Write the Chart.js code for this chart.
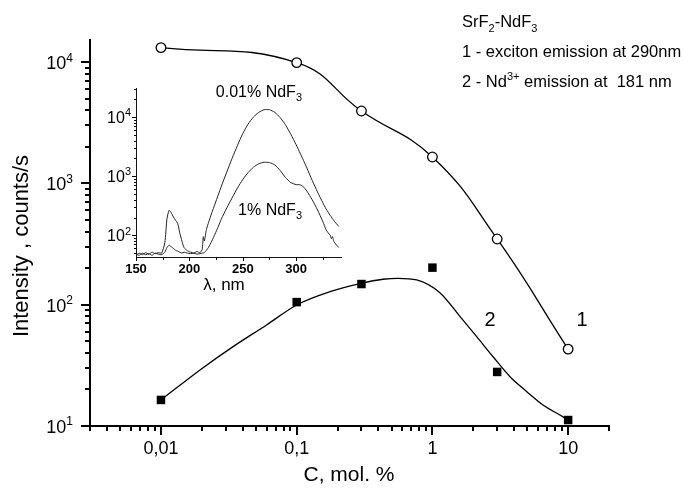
<!DOCTYPE html>
<html>
<head>
<meta charset="utf-8">
<script src="https://cdn.jsdelivr.net/npm/chart.js@4.4.1/dist/chart.umd.min.js"></script>
<style>
  html, body { margin: 0; padding: 0; background: #fff; }
  #wrap { position: relative; width: 685px; height: 489px; }
  #wrap canvas { position: absolute; left: 0; top: 0; }
</style>
</head>
<body>
<div id="wrap">
  <canvas id="mainChart" width="685" height="489"></canvas>
  <canvas id="insetChart" width="685" height="489"></canvas>
</div>
<script>
// Main plot: intensity vs NdF3 concentration
const conc = [0.01, 0.1, 0.3, 1, 3, 10];
const excitonCounts = [13150, 9900, 3950, 1650, 348, 43];   // 1 - exciton at 290 nm
const ndCounts = [16.4, 105, 148, 202, 27.9, 11.2];          // 2 - Nd3+ at 181 nm

// drawn fit line through the Nd3+ points
const ndFitConc = [0.01, 0.0194, 0.034, 0.06, 0.1, 0.176, 0.298, 0.433, 0.558, 0.766, 1.14, 1.6, 2.12, 2.8, 3.73, 4.96, 6.53, 9.17, 10];
const ndFitCounts = [16.4, 29, 45.1, 68.1, 99.5, 128, 150, 162, 165, 160, 125, 79.6, 54.5, 37.2, 25.5, 19.2, 14.9, 11.9, 11.2];

const concTicks = [0.01, 0.1, 1, 10];
const concTickLabels = ['0,01', '0,1', '1', '10'];
const countTicks = [10, 100, 1000, 10000];
const countTickExp = ['1', '2', '3', '4'];

// Inset: emission spectra
const wavelength = [150, 153, 156, 159, 162, 165, 168, 171, 174, 177, 179, 181, 183, 185, 187, 189, 191, 193, 195, 198,
  201, 204, 207, 210, 212, 213, 214, 216, 218, 221, 224, 227, 230, 235, 240, 245, 250, 255, 260, 265, 270, 275, 280, 285,
  290, 295, 300, 303, 306, 310, 315, 320, 325, 328, 330, 332, 333, 334, 335, 336, 338, 340];
const spec001 = [46, 50, 47, 51, 48, 52, 49, 51, 50, 75, 190, 265, 240, 205, 180, 160, 110, 80, 62, 55,
  52, 50, 53, 51, 58, 95, 80, 126, 166, 240, 340, 480, 680, 1175, 2000, 3300, 5250, 7600, 10000, 12000, 13300, 13300, 12000, 9800,
  7400, 5100, 3400, 2600, 2000, 1380, 850, 540, 355, 280, 245, 215, 205, 190, 182, 170, 155, 141];
const spec1 = [48, 46, 50, 47, 49, 46, 50, 48, 47, 52, 62, 68, 64, 60, 56, 54, 52, 50, 52, 50,
  49, 50, 48, 49, 50, 50, 51, 56, 63, 80, 105, 140, 190, 290, 430, 630, 880, 1150, 1420, 1620, 1720, 1700, 1550, 1250,
  950, 780, 720, 720, 680, 560, 400, 270, 170, 125, 110, 100, 88, 95, 82, 75, 68, 62];
const waveTicks = [150, 200, 250, 300];
const insetCountTicks = [100, 1000, 10000];
const insetCountExp = ['2', '3', '4'];

const ink = '#000';
const FONT = '"Liberation Sans", Arial, sans-serif';

function minorLogTicks(fromExp, toExp, min, max) {
  const out = [];
  for (let e = fromExp; e <= toExp; e++) {
    for (let m = 2; m <= 9; m++) {
      const v = m * Math.pow(10, e);
      if (v >= min * 0.999 && v <= max * 1.001) out.push(v);
    }
  }
  return out;
}

// text with sub/superscripts: parts = [[text, kind]] kind 0 normal, 1 sup, -1 sub
function drawRich(ctx, x, y, parts, size, align, weight) {
  const w = weight || 'normal';
  const small = Math.round(size * 0.68);
  const fontFor = k => `${w} ${k ? small : size}px ${FONT}`;
  let total = 0;
  parts.forEach(([t, k]) => { ctx.font = fontFor(k); total += ctx.measureText(t).width; });
  let cx = align === 'right' ? x - total : align === 'center' ? x - total / 2 : x;
  ctx.textAlign = 'left';
  ctx.textBaseline = 'alphabetic';
  ctx.fillStyle = ink;
  parts.forEach(([t, k]) => {
    ctx.font = fontFor(k);
    const dy = k === 1 ? -size * 0.42 : k === -1 ? size * 0.28 : 0;
    ctx.fillText(t, cx, y + dy);
    cx += ctx.measureText(t).width;
  });
}

function drawTicks(ctx, scale, values, len, width) {
  ctx.save();
  ctx.strokeStyle = ink;
  ctx.lineWidth = width;
  values.forEach(v => {
    const p = Math.round(scale.getPixelForValue(v)) + (width % 2 ? 0.5 : 0);
    ctx.beginPath();
    if (scale.axis === 'x') {
      ctx.moveTo(p, scale.top);
      ctx.lineTo(p, scale.top + len);
    } else {
      ctx.moveTo(scale.right, p);
      ctx.lineTo(scale.right - len, p);
    }
    ctx.stroke();
  });
  ctx.restore();
}

const mainAxes = {
  id: 'mainAxes',
  afterDraw(chart) {
    const { ctx, scales: { x, y } } = chart;
    drawTicks(ctx, x, minorLogTicks(-3, 1, x.min, x.max), 5, 2);
    drawTicks(ctx, x, concTicks, 9, 2);
    drawTicks(ctx, y, minorLogTicks(1, 4, y.min, y.max), 5, 2);
    drawTicks(ctx, y, countTicks, 9, 2);

    ctx.save();
    ctx.fillStyle = ink;
    ctx.font = `18px ${FONT}`;
    ctx.textAlign = 'center';
    ctx.textBaseline = 'alphabetic';
    concTicks.forEach((v, i) => ctx.fillText(concTickLabels[i], x.getPixelForValue(v), 454));
    countTicks.forEach((v, i) => {
      drawRich(ctx, 73, y.getPixelForValue(v) + 7, [['10', 0], [countTickExp[i], 1]], 18, 'right');
    });

    ctx.font = `21px ${FONT}`;
    ctx.textAlign = 'center';
    ctx.fillText('C, mol. %', 349, 481);
    ctx.font = `22px ${FONT}`;
    ctx.save();
    ctx.translate(28, 246);
    ctx.rotate(-Math.PI / 2);
    ctx.fillText('Intensity , counts/s', 0, 0);
    ctx.restore();

    drawRich(ctx, 462, 27, [['SrF', 0], ['2', -1], ['-NdF', 0], ['3', -1]], 16.5, 'left');
    drawRich(ctx, 462, 57, [['1 - exciton emission at 290nm', 0]], 16.5, 'left');
    drawRich(ctx, 462, 87, [['2 - Nd', 0], ['3+', 1], [' emission at  181 nm', 0]], 16.5, 'left');

    ctx.font = `20px ${FONT}`;
    ctx.textAlign = 'center';
    ctx.fillText('1', 582, 326);
    ctx.fillText('2', 490, 326);
    ctx.restore();
  }
};

const toPts = (xs, ys) => xs.map((v, i) => ({ x: v, y: ys[i] }));

new Chart(document.getElementById('mainChart'), {
  type: 'line',
  data: {
    datasets: [
      { data: toPts(conc, excitonCounts), showLine: false, pointStyle: 'circle', pointRadius: 4.8,
        pointBackgroundColor: '#fff', pointBorderColor: ink, pointBorderWidth: 1.3 },
      { data: toPts(conc, ndCounts), showLine: false, pointStyle: 'rect', pointRadius: 6,
        pointBackgroundColor: ink, pointBorderColor: ink, pointBorderWidth: 0 },
      { data: toPts(conc, excitonCounts), borderColor: ink, borderWidth: 1.3, pointRadius: 0,
        tension: 0.45, fill: false },
      { data: toPts(ndFitConc, ndFitCounts), borderColor: ink, borderWidth: 1.3, pointRadius: 0,
        cubicInterpolationMode: 'monotone', fill: false }
    ]
  },
  options: {
    responsive: false,
    animation: false,
    devicePixelRatio: 1,
    layout: { padding: { left: 0, top: 40, right: 76, bottom: 0 } },
    plugins: { legend: { display: false }, tooltip: { enabled: false } },
    scales: {
      x: {
        type: 'logarithmic', min: 0.003, max: 20,
        afterFit: s => { s.height = 63; },
        grid: { display: false },
        border: { display: true, color: ink, width: 2 },
        ticks: { display: false }
      },
      y: {
        type: 'logarithmic', min: 10, max: 15200,
        afterFit: s => { s.width = 90; },
        grid: { display: false },
        border: { display: true, color: ink, width: 2 },
        ticks: { display: false }
      }
    }
  },
  plugins: [mainAxes]
});

const insetAxes = {
  id: 'insetAxes',
  afterDraw(chart) {
    const { ctx, scales: { x, y } } = chart;
    drawTicks(ctx, x, [175, 225, 275, 325], 3, 1);
    drawTicks(ctx, x, waveTicks, 4, 1);
    drawTicks(ctx, y, minorLogTicks(1, 4, y.min, y.max), 2, 1);
    drawTicks(ctx, y, insetCountTicks, 4, 1);

    ctx.save();
    ctx.fillStyle = ink;
    ctx.font = `bold 13px ${FONT}`;
    ctx.textAlign = 'center';
    ctx.textBaseline = 'alphabetic';
    waveTicks.forEach(v => ctx.fillText(String(v), x.getPixelForValue(v), 273));
    insetCountTicks.forEach((v, i) => {
      drawRich(ctx, 131, y.getPixelForValue(v) + 6, [['10', 0], [insetCountExp[i], 1]], 16, 'right');
    });
    ctx.font = `17px ${FONT}`;
    ctx.textAlign = 'center';
    ctx.fillText('\u03bb, nm', 224, 290);

    drawRich(ctx, 302, 97, [['0.01% NdF', 0], ['3', -1]], 16, 'right');
    drawRich(ctx, 302, 215, [['1% NdF', 0], ['3', -1]], 16, 'right');
    ctx.restore();
  }
};

new Chart(document.getElementById('insetChart'), {
  type: 'line',
  data: {
    datasets: [
      { data: toPts(wavelength, spec001), borderColor: '#222', borderWidth: 1, pointRadius: 0, tension: 0.2, fill: false },
      { data: toPts(wavelength, spec1), borderColor: '#222', borderWidth: 1, pointRadius: 0, tension: 0.2, fill: false }
    ]
  },
  options: {
    responsive: false,
    animation: false,
    devicePixelRatio: 1,
    layout: { padding: { left: 136, top: 88, right: 344, bottom: 232 } },
    plugins: { legend: { display: false }, tooltip: { enabled: false } },
    scales: {
      x: {
        type: 'linear', min: 150, max: 342,
        afterFit: s => { s.height = 0; },
        grid: { display: false },
        border: { display: true, color: '#111', width: 1 },
        ticks: { display: false }
      },
      y: {
        type: 'logarithmic', min: 43, max: 31000,
        afterFit: s => { s.width = 0; },
        grid: { display: false },
        border: { display: true, color: '#111', width: 1 },
        ticks: { display: false }
      }
    }
  },
  plugins: [insetAxes]
});
</script>
</body>
</html>
